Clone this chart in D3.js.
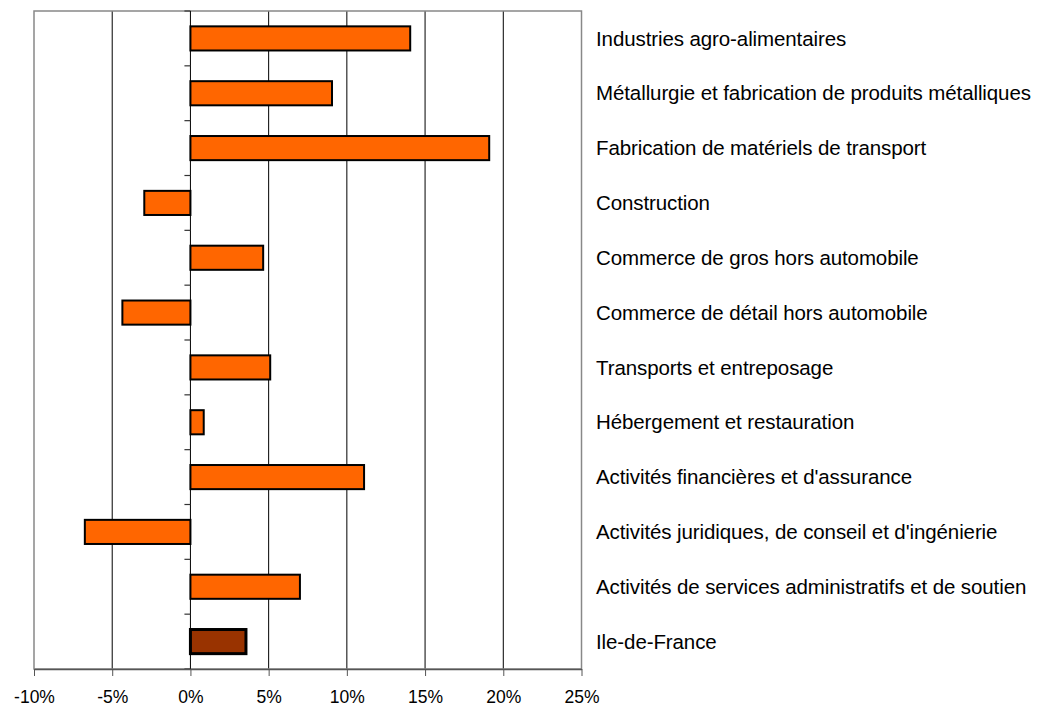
<!DOCTYPE html>
<html><head><meta charset="utf-8">
<script src="https://cdn.jsdelivr.net/npm/d3@7"></script>
<style>html,body{margin:0;padding:0;background:#fff;}svg{display:block;}</style>
</head><body>
<svg id="c" width="1039" height="707"></svg>
<script>
const categories = [
  "Industries agro-alimentaires",
  "Métallurgie et fabrication de produits métalliques",
  "Fabrication de matériels de transport",
  "Construction",
  "Commerce de gros hors automobile",
  "Commerce de détail hors automobile",
  "Transports et entreposage",
  "Hébergement et restauration",
  "Activités financières et d'assurance",
  "Activités juridiques, de conseil et d'ingénierie",
  "Activités de services administratifs et de soutien",
  "Ile-de-France"
];
const values = [14.05, 9.05, 19.1, -2.95, 4.65, -4.35, 5.1, 0.85, 11.1, -6.75, 7.0, 3.55];
const highlight = ["Ile-de-France"];
const xTicks = [-10, -5, 0, 5, 10, 15, 20, 25];
const tickLabels = ["-10%", "-5%", "0%", "5%", "10%", "15%", "20%", "25%"];

const svg = d3.select("#c");
const L = 34, R = 581.5, T = 11, B = 669;
const x = d3.scaleLinear().domain([-10, 25]).range([L, R]);
const y = d3.scaleBand().domain(categories).range([T, B]).paddingInner(0.56).paddingOuter(0.28);
const band = d3.scaleBand().domain(categories).range([T, B]);
const FONT = "'Liberation Sans', Arial, sans-serif";

// gridlines
svg.append("g").selectAll("line").data(xTicks.filter(d => d !== -10 && d !== 25 && d !== 0)).join("line")
  .attr("x1", d => x(d)).attr("x2", d => x(d)).attr("y1", T).attr("y2", B)
  .attr("stroke", "#000").attr("stroke-width", 1);

// frame
svg.append("rect").attr("x", L).attr("y", T).attr("width", R - L).attr("height", B - T)
  .attr("fill", "none").attr("stroke", "#888").attr("stroke-width", 1.5);

// bars
svg.append("g").selectAll("rect").data(categories).join("rect")
  .attr("x", (d, i) => x(Math.min(0, values[i])))
  .attr("width", (d, i) => Math.abs(x(values[i]) - x(0)))
  .attr("y", d => y(d)).attr("height", y.bandwidth())
  .attr("fill", d => highlight.includes(d) ? "#993300" : "#FF6600")
  .attr("stroke", "#000")
  .attr("stroke-width", d => highlight.includes(d) ? 3 : 2);

// zero axis with category ticks
svg.append("line").attr("x1", x(0)).attr("x2", x(0)).attr("y1", T).attr("y2", B)
  .attr("stroke", "#000").attr("stroke-width", 1);
const bounds = categories.map(c => band(c)).concat([B]);
svg.append("g").selectAll("line").data(bounds).join("line")
  .attr("x1", x(0) - 6).attr("x2", x(0)).attr("y1", d => d).attr("y2", d => d)
  .attr("stroke", "#333").attr("stroke-width", 1.2);

// x axis
const xAxis = d3.axisBottom(x).tickValues(xTicks).tickFormat((d, i) => tickLabels[i]).tickSize(7).tickSizeOuter(0);
const gx = svg.append("g").attr("transform", `translate(0,${B})`).call(xAxis);
gx.select(".domain").attr("stroke", "#555").attr("stroke-width", 1.5);
gx.selectAll(".tick line").attr("stroke", "#555").attr("stroke-width", 1);
gx.selectAll(".tick text").attr("font-family", FONT)
  .attr("font-size", 17.5).attr("fill", "#000").attr("y", 34).attr("dy", 0);

// category labels
svg.append("g").selectAll("text").data(categories).join("text")
  .attr("x", 596).attr("y", d => band(d) + band.bandwidth() / 2)
  .attr("dy", "0.35em")
  .attr("font-family", FONT)
  .attr("font-size", 20.5).attr("letter-spacing", "-0.1px").attr("fill", "#000")
  .text(d => d);
</script>
</body></html>
